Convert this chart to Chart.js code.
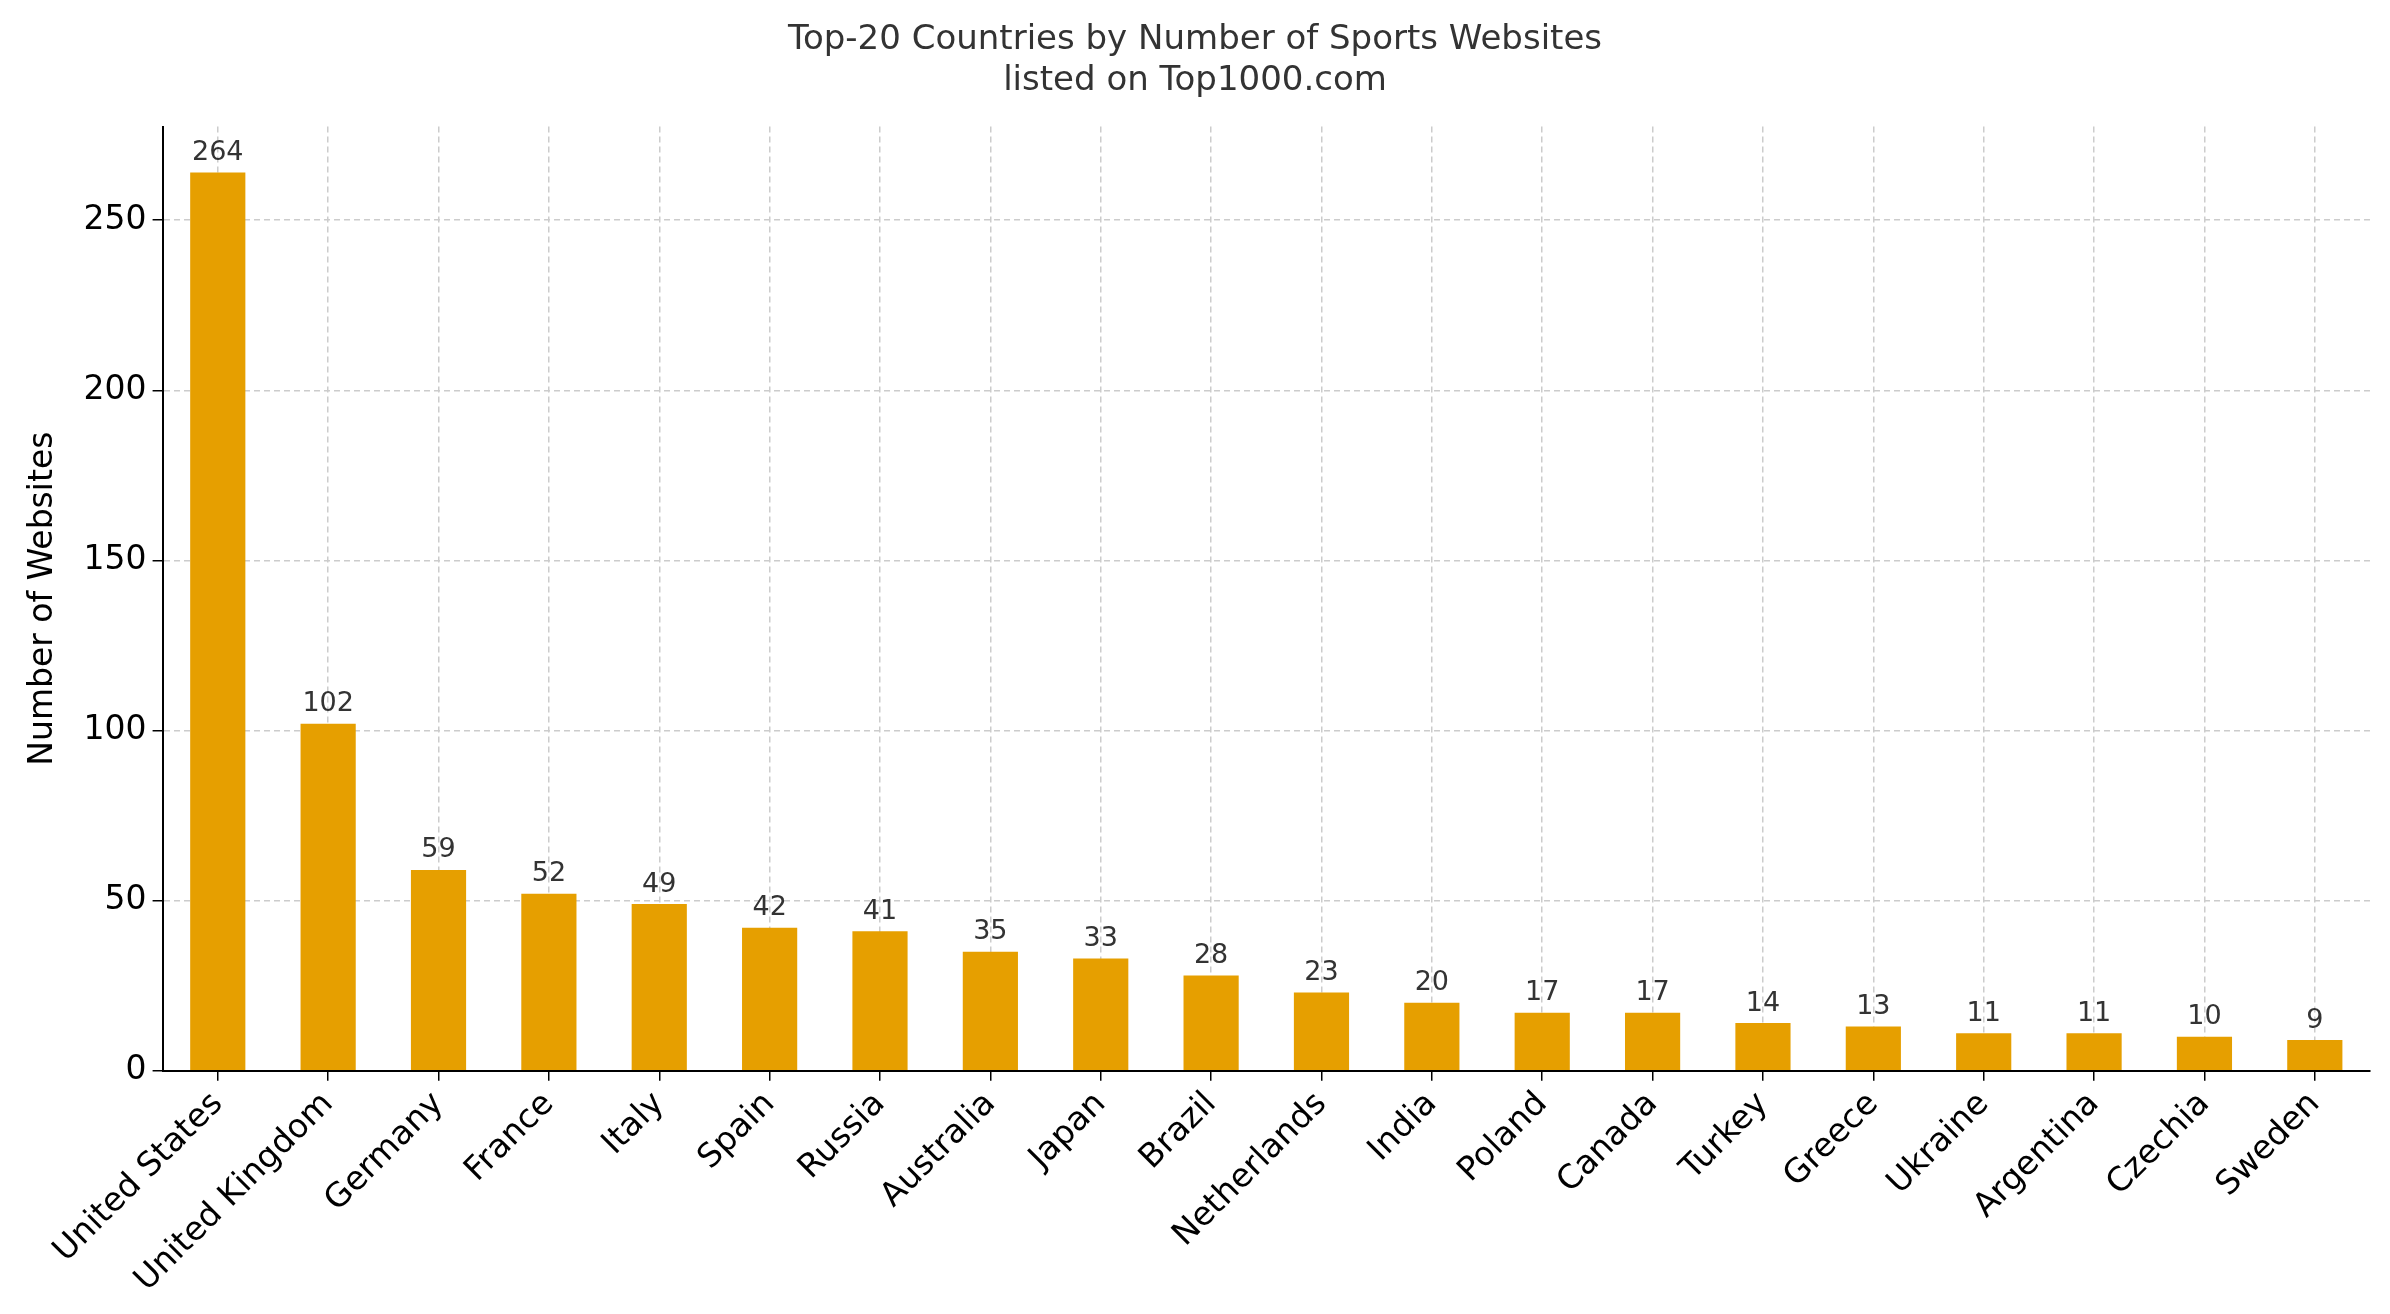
<!DOCTYPE html>
<html><head><meta charset="utf-8">
<script src="https://cdn.jsdelivr.net/npm/chart.js@4"></script>
<style>html,body{margin:0;padding:0;background:#fff}#w{width:2390px;height:1314px}</style>
</head><body><div id="w"><canvas id="c"></canvas></div>
<script>
const countries=["United States","United Kingdom","Germany","France","Italy","Spain","Russia","Australia","Japan","Brazil","Netherlands","India","Poland","Canada","Turkey","Greece","Ukraine","Argentina","Czechia","Sweden"];
const websites=[264,102,59,52,49,42,41,35,33,28,23,20,17,17,14,13,11,11,10,9];
const yTicks=[0,50,100,150,200,250];
const F="'DejaVu Sans'";
const labels={id:'lbl',afterDatasetsDraw(ch){const c=ch.ctx;const m=ch.getDatasetMeta(0);c.save();c.font="27px "+F;c.fillStyle="#333";c.textAlign="center";c.textBaseline="bottom";
m.data.forEach((b,i)=>c.fillText(websites[i],b.x,b.y-6));c.restore();}};
new Chart(document.getElementById('c'),{type:'bar',
data:{labels:countries,datasets:[{data:websites,backgroundColor:'#E69F00',categoryPercentage:1,barPercentage:0.5}]},
options:{responsive:true,maintainAspectRatio:false,animation:false,
layout:{padding:{left:20,right:20,top:10,bottom:10}},
plugins:{legend:{display:false},tooltip:{enabled:false},
title:{display:true,text:["Top-20 Countries by Number of Sports Websites","listed on Top1000.com"],font:{family:F,size:34,weight:'normal'},color:'#333',padding:{top:10,bottom:25},lineHeight:1.25}},
scales:{
x:{offset:true,grid:{color:'#ccc',lineWidth:1.5,tickColor:'#000',tickLength:10,offset:false,drawTicks:true},border:{color:'#000',width:2,dash:[6,4]},
ticks:{color:'#000',font:{family:F,size:33},maxRotation:45,minRotation:45,padding:4}},
y:{min:0,max:277.5,afterBuildTicks:a=>{a.ticks=yTicks.map(v=>({value:v}));},
grid:{color:'#ccc',lineWidth:1.5,tickColor:'#000',tickLength:10},border:{color:'#000',width:2,dash:[6,4]},
ticks:{color:'#000',font:{family:F,size:33},padding:6},
title:{display:true,text:'Number of Websites',font:{family:F,size:33},color:'#000',padding:{bottom:14}}}}},
plugins:[labels]});
</script></body></html>
